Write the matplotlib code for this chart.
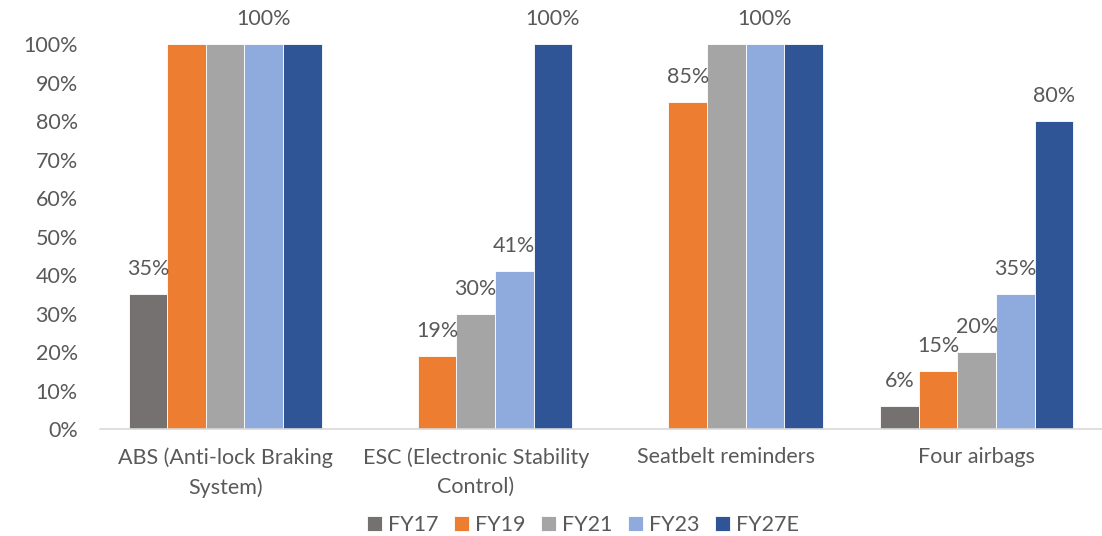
import matplotlib
matplotlib.use("Agg")
import matplotlib.pyplot as plt
import numpy as np

plt.rcParams['font.family'] = ['Lato', 'DejaVu Sans']

categories = ["ABS (Anti-lock Braking\nSystem)", "ESC (Electronic Stability\nControl)",
              "Seatbelt reminders", "Four airbags"]
series = ["FY17", "FY19", "FY21", "FY23", "FY27E"]
fy17 = [0.35, 0.00, 0.00, 0.06]
fy19 = [1.00, 0.19, 0.85, 0.15]
fy21 = [1.00, 0.30, 1.00, 0.20]
fy23 = [1.00, 0.41, 1.00, 0.35]
fy27e = [1.00, 1.00, 1.00, 0.80]
values = [fy17, fy19, fy21, fy23, fy27e]
colors = ["#767171", "#ED7D31", "#A5A5A5", "#8FAADC", "#2F5597"]

# which bars carry a value label (series index per category)
labelled = {
    0: [0, 3],
    1: [1, 2, 3, 4],
    2: [1, 3],
    3: [0, 1, 2, 3, 4],
}

text_col = "#595959"
fs = 15.5
fig = plt.figure(figsize=(11.02, 5.36), dpi=100)
ax = fig.add_axes([0.0907, 0.1996, 0.9093, 0.7183])

x = np.arange(len(categories))
bw = 0.154
for i, (name, vals, c) in enumerate(zip(series, values, colors)):
    xs = x + (i - 2) * bw
    ax.bar(xs, vals, width=bw, color=c, edgecolor="white", linewidth=0.6,
           label=name, zorder=2)
    for j, v in enumerate(vals):
        if i in labelled[j]:
            ax.annotate(f"{round(v * 100)}%", (xs[j], v), xytext=(0, 18),
                        textcoords="offset points", ha="center", va="center",
                        fontsize=fs, color=text_col, annotation_clip=False)

ax.set_xlim(-0.5, 3.5)
ax.set_ylim(0, 1.0)
ax.set_yticks(np.arange(0, 1.01, 0.1))
ax.set_yticklabels([f"{int(round(t * 100))}%" for t in np.arange(0, 1.01, 0.1)])
ax.set_xticks(x)
ax.set_xticklabels(categories, linespacing=1.6)
ax.tick_params(axis="both", length=0, labelsize=fs, labelcolor=text_col)
ax.tick_params(axis="y", pad=16)
ax.tick_params(axis="x", pad=13)
for s in ["top", "right", "left"]:
    ax.spines[s].set_visible(False)
ax.spines["bottom"].set_color("#D9D9D9")
ax.spines["bottom"].set_linewidth(1.2)

ax.legend(loc="center", bbox_to_anchor=(0.482, -0.25), ncol=5, frameon=False,
          fontsize=fs, labelcolor=text_col, handlelength=0.7, handleheight=0.7,
          handletextpad=0.3, columnspacing=0.7)

fig.savefig("out.png", dpi=100)
